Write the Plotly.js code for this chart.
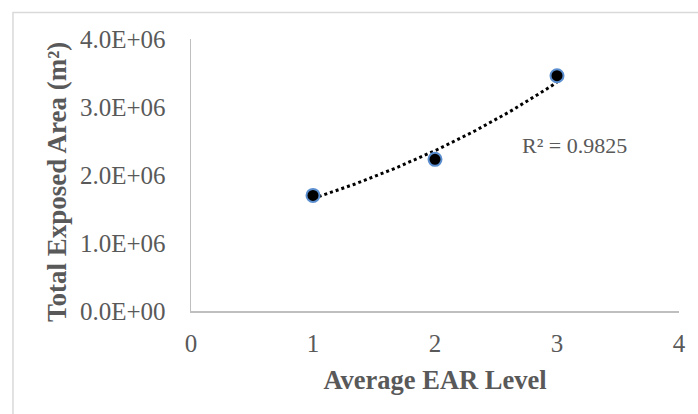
<!DOCTYPE html>
<html>
<head>
<meta charset="utf-8">
<script src="https://cdn.plot.ly/plotly-3.0.1.min.js"></script>
<style>
  html, body { margin: 0; padding: 0; background: #ffffff; }
  #chart { width: 698px; height: 414px; }
</style>
</head>
<body>
<div id="chart"></div>
<script>
// Average EAR level vs. total exposed area
const earLevels = [1, 2, 3];
const exposedArea = [1.70e6, 2.23e6, 3.46e6];
const yTickValues = [0, 1e6, 2e6, 3e6, 4e6];
const yTickLabels = ['0.0E+00', '1.0E+06', '2.0E+06', '3.0E+06', '4.0E+06'];
const xTickValues = [0, 1, 2, 3, 4];
const r2Label = 'R² = 0.9825';
const xTitle = '<b>Average EAR Level</b>';
const yTitle = '<b>Total Exposed Area (m²)</b>';

// Exponential trendline y = a·e^(b·x), least squares on ln(y)
function expFit(xs, ys) {
  const n = xs.length;
  const ly = ys.map(Math.log);
  const mx = xs.reduce((s, v) => s + v, 0) / n;
  const my = ly.reduce((s, v) => s + v, 0) / n;
  let sxy = 0, sxx = 0;
  for (let i = 0; i < n; i++) {
    sxy += (xs[i] - mx) * (ly[i] - my);
    sxx += (xs[i] - mx) * (xs[i] - mx);
  }
  const b = sxy / sxx;
  const lnA = my - b * mx;
  return { a: Math.exp(lnA), b: b };
}
const fit = expFit(earLevels, exposedArea);
const xMin = Math.min(...earLevels), xMax = Math.max(...earLevels);
const trendX = [], trendY = [];
for (let i = 0; i <= 60; i++) {
  const x = xMin + (xMax - xMin) * i / 60;
  trendX.push(x);
  trendY.push(fit.a * Math.exp(fit.b * x));
}

const serif = 'Liberation Serif, Times New Roman, serif';
const grey = '#595959';

const traces = [
  {
    x: trendX, y: trendY, type: 'scatter', mode: 'lines',
    line: { color: '#000000', width: 3, dash: 'dot' },
    hoverinfo: 'skip'
  },
  {
    x: earLevels, y: exposedArea, type: 'scatter', mode: 'markers',
    marker: { color: '#000000', size: 13, line: { color: '#5b8fd0', width: 2 } }
  }
];

const layout = {
  width: 698, height: 414,
  margin: { l: 191, r: 19, t: 39, b: 103 },
  paper_bgcolor: '#ffffff', plot_bgcolor: '#ffffff',
  showlegend: false,
  font: { family: serif, color: grey, size: 25 },
  xaxis: {
    range: [0, 4], tickvals: xTickValues, ticktext: xTickValues.map(String),
    showgrid: false, zeroline: false,
    showline: true, linecolor: '#bfbfbf', linewidth: 1.5,
    ticks: '', ticklabelstandoff: 9,
    tickfont: { family: serif, size: 25, color: grey },
    title: { text: xTitle, font: { family: serif, size: 26.5, color: grey }, standoff: 15 }
  },
  yaxis: {
    range: [0, 4e6], tickvals: yTickValues, ticktext: yTickLabels,
    showgrid: false, zeroline: false,
    showline: true, linecolor: '#bfbfbf', linewidth: 1.5,
    ticks: '', ticklabelstandoff: 19,
    tickfont: { family: serif, size: 25, color: grey }
  },
  annotations: [
    {
      x: 3.14, y: 2.44e6, xref: 'x', yref: 'y', showarrow: false,
      text: r2Label, font: { family: serif, size: 22, color: grey }
    },
    {
      // vertical axis title, set slightly above the plot centre
      x: -0.2746, y: 0.474, xref: 'paper', yref: 'paper',
      xanchor: 'center', yanchor: 'middle', showarrow: false, textangle: -90,
      text: yTitle, font: { family: serif, size: 27, color: grey }
    }
  ],
  shapes: [
    {
      type: 'rect', xref: 'paper', yref: 'paper',
      x0: -0.3648, x1: 1.3, y0: -0.5, y1: 1.0974,
      line: { color: '#d9d9d9', width: 1.5 }, fillcolor: 'rgba(0,0,0,0)', layer: 'below'
    }
  ]
};

Plotly.newPlot('chart', traces, layout, { displayModeBar: false, staticPlot: true });
</script>
</body>
</html>
